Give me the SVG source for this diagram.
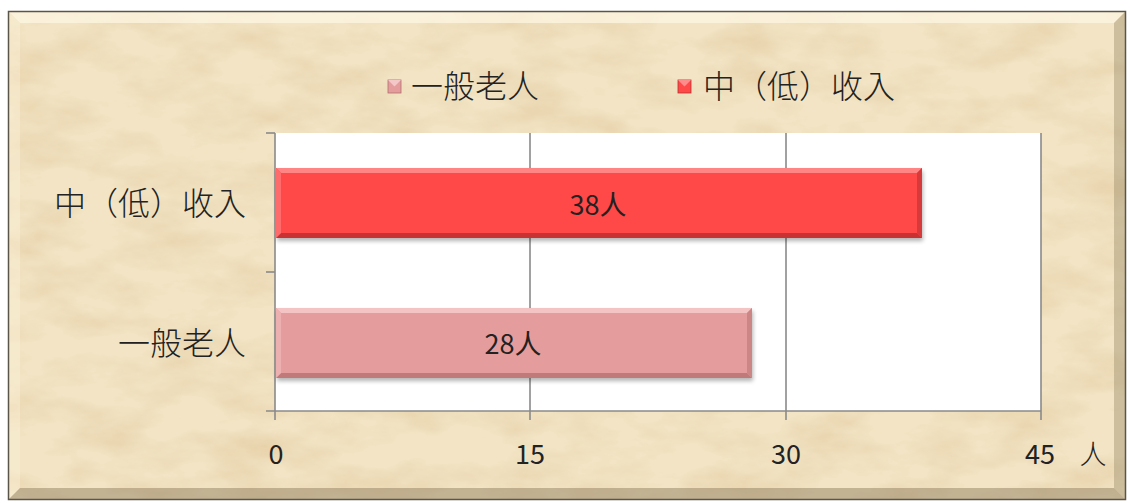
<svg xmlns="http://www.w3.org/2000/svg" width="1130" height="503" viewBox="0 0 1130 503">
<defs>
<style>
.t{font-family:"Noto Sans CJK TC","Noto Sans",sans-serif;fill:#222;font-weight:300;}
.cat{font-size:32px;text-anchor:end;}
.ax{font-size:27px;text-anchor:middle;font-weight:400;}
.lg{font-size:32px;}
.val{font-size:27px;text-anchor:middle;font-weight:400;}
.grid{stroke:#8a8a8a;stroke-width:1.6;fill:none;}
</style>
<filter id="paper" x="0" y="0" width="100%" height="100%">
<feTurbulence type="fractalNoise" baseFrequency="0.014 0.03" numOctaves="5" seed="7" result="n"/>
<feColorMatrix in="n" type="matrix" values="0 0 0 0 0.80  0 0 0 0 0.64  0 0 0 0 0.40  1.8 0 0 0 -0.72" result="spots"/>
<feComposite in="spots" in2="SourceGraphic" operator="over"/>
</filter>
<filter id="sh" x="-5%" y="-20%" width="110%" height="150%">
<feGaussianBlur in="SourceAlpha" stdDeviation="2"/>
<feOffset dx="1" dy="3"/>
<feComponentTransfer><feFuncA type="linear" slope="0.3"/></feComponentTransfer>
<feMerge><feMergeNode/><feMergeNode in="SourceGraphic"/></feMerge>
</filter>
</defs>
<rect x="0" y="0" width="1130" height="503" fill="#ffffff"/>
<g id="frame">
<rect x="8" y="11" width="1118" height="489" fill="#F2E4C4" filter="url(#paper)"/>
<polygon points="8,11 1126,11 1114,23 20,23" fill="#FFF8E6" opacity="0.7"/>
<polygon points="8,11 20,23 20,488 8,500" fill="#FFF6E0" opacity="0.35"/>
<polygon points="1126,11 1126,500 1114,488 1114,23" fill="#8a7a5a" opacity="0.35"/>
<polygon points="8,500 1126,500 1114,488 20,488" fill="#7a6a4a" opacity="0.4"/>
<rect x="8.5" y="11.5" width="1117" height="488" fill="none" stroke="#5a5548" stroke-width="1.5"/>
</g>
<g id="plot">
<rect x="275" y="133" width="766" height="278" fill="#ffffff"/>
</g>
<g id="connectors">
<line class="grid" x1="530" y1="133" x2="530" y2="420"/>
<line class="grid" x1="786" y1="133" x2="786" y2="420"/>
<line class="grid" x1="1041" y1="133" x2="1041" y2="420"/>
<line class="grid" x1="275" y1="133" x2="275" y2="420"/>
<line class="grid" x1="266" y1="411" x2="1041" y2="411"/>
<line class="grid" x1="266" y1="133" x2="275" y2="133"/>
<line class="grid" x1="266" y1="272" x2="275" y2="272"/>
</g>
<g id="bar-low">
<g filter="url(#sh)">
<rect x="276" y="168" width="646" height="70" fill="#FF4848"/>
</g>
<polygon points="276,168 922,168 917,173 281,173" fill="#FF8585"/>
<polygon points="276,238 922,238 917,233 281,233" fill="#C83232"/>
<polygon points="922,168 922,238 917,233 917,173" fill="#D63A3A"/>
<polygon points="276,168 281,173 281,233 276,238" fill="#FF6A6A"/>
<text class="t val" x="598" y="215">38人</text>
</g>
<g id="bar-general">
<g filter="url(#sh)">
<rect x="276" y="308" width="476" height="70" fill="#E59C9C"/>
</g>
<polygon points="276,308 752,308 747,313 281,313" fill="#F4C4C4"/>
<polygon points="276,378 752,378 747,373 281,373" fill="#C07A7A"/>
<polygon points="752,308 752,378 747,373 747,313" fill="#CC8686"/>
<polygon points="276,308 281,313 281,373 276,378" fill="#EDB0B0"/>
<text class="t val" x="513" y="354">28人</text>
</g>
<g id="cat-labels">
<text class="t cat" x="246" y="215">中（低）收入</text>
<text class="t cat" x="246" y="355">一般老人</text>
</g>
<g id="axis-labels">
<text class="t ax" x="276" y="464">0</text>
<text class="t ax" x="530" y="464">15</text>
<text class="t ax" x="786" y="464">30</text>
<text class="t ax" x="1040" y="464">45</text>
<text class="t ax" x="1093" y="464" style="font-weight:300">人</text>
</g>
<g id="legend">
<rect x="388" y="80" width="13" height="13" fill="#E59C9C" stroke="#B07070" stroke-width="0.8"/>
<polygon points="388,80 401,80 394.5,86.5" fill="#F4C8C8"/>
<text class="t lg" x="411" y="98">一般老人</text>
<rect x="678" y="80" width="13" height="13" fill="#FF4848" stroke="#B83030" stroke-width="0.8"/>
<polygon points="678,80 691,80 684.5,86.5" fill="#FF8C8C"/>
<text class="t lg" x="703" y="98">中（低）收入</text>
</g>
</svg>
